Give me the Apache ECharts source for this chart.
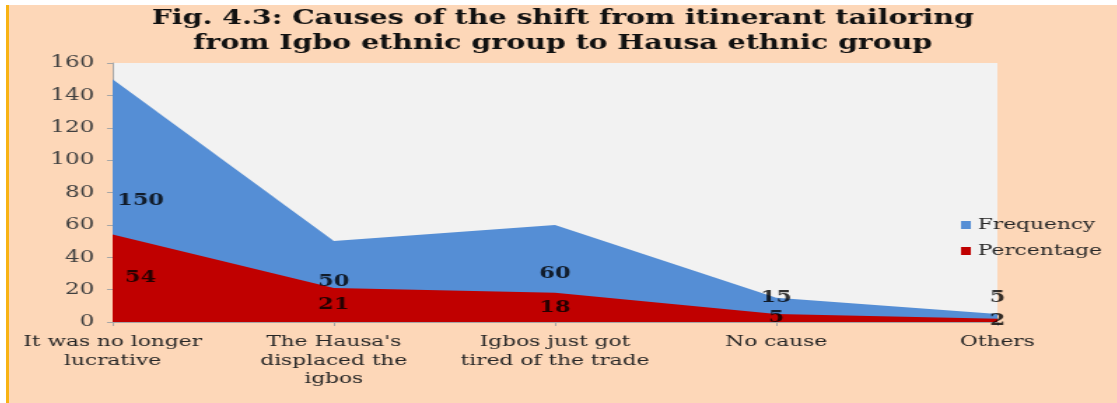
<!DOCTYPE html>
<html>
<head>
<meta charset="utf-8">
<script src="https://cdn.jsdelivr.net/npm/echarts@6/dist/echarts.min.js"></script>
<style>
  html, body { margin: 0; padding: 0; background: #ffffff; }
  #frame { position: absolute; left: 6px; top: 5px; width: 1111px; height: 398px;
           background: #fdd7b8; border-left: 3px solid #f8b313; box-sizing: border-box; overflow: hidden; }
  /* the original picture is stretched sideways, so the chart is too */
  #chart { position: absolute; left: 0; top: 0; width: 791px; height: 398px;
           transform: scaleX(1.4); transform-origin: 0 0; }
</style>
</head>
<body>
<div id="frame"><div id="chart"></div></div>
<script>
var categories = ['It was no longer\nlucrative', "The Hausa's\ndisplaced the\nigbos",
  'Igbos just got\ntired of the trade', 'No cause', 'Others']
var frequency = [150, 50, 60, 15, 5]
var percentage = [54, 21, 18, 5, 2]
var yTicks = [0, 20, 40, 60, 80, 100, 120, 140, 160]

var serif = '"DejaVu Serif", serif'

// label points sit midway down each area, first one nudged inside the plot
function labelPoints(values, floor) {
  return values.map(function (v, i) {
    var item = { value: [i, Math.max(v / 2, floor), v] }
    if (i === 0) item.label = { offset: [20, 0] }
    return item
  })
}

var labelStyle = {
  show: true, position: 'inside',
  formatter: function (p) { return p.value[2] },
  fontFamily: serif, fontWeight: 'bold', fontSize: 16, color: '#000'
}

var chart = echarts.init(document.getElementById('chart'))
chart.setOption({
  title: {
    text: 'Fig. 4.3: Causes of the shift from itinerant tailoring\nfrom Igbo ethnic group to Hausa ethnic group',
    left: 'center',
    top: 1,
    padding: 0,
    textStyle: { fontFamily: serif, fontWeight: 'bold', fontSize: 20.3, color: '#111', lineHeight: 25 }
  },
  legend: {
    orient: 'vertical',
    left: 675,
    top: 207,
    itemWidth: 7,
    itemHeight: 8,
    itemGap: 10,
    icon: 'rect',
    data: ['Frequency', 'Percentage'],
    textStyle: { fontFamily: serif, fontSize: 15.5, color: '#262626' }
  },
  grid: { left: 74, right: 85, top: 58, bottom: 81, show: true, backgroundColor: '#f2f2f2', borderWidth: 0 },
  xAxis: {
    type: 'category',
    boundaryGap: false,
    data: categories,
    axisLine: { lineStyle: { color: '#a6a6a6' } },
    axisTick: { show: true, length: 4, lineStyle: { color: '#a6a6a6' } },
    axisLabel: { fontFamily: serif, fontSize: 15.5, color: '#262626', lineHeight: 18.5, margin: 11, interval: 0 }
  },
  yAxis: {
    type: 'value',
    min: 0,
    max: yTicks[yTicks.length - 1],
    interval: 20,
    axisLine: { show: true, lineStyle: { color: '#a6a6a6' } },
    axisTick: { show: true, length: 4, lineStyle: { color: '#a6a6a6' } },
    splitLine: { show: false },
    axisLabel: { fontFamily: serif, fontSize: 16.5, color: '#404040', margin: 13 }
  },
  series: [
    {
      name: 'Frequency', type: 'line', data: frequency, symbol: 'none',
      lineStyle: { width: 0 }, itemStyle: { color: '#558ed5' },
      areaStyle: { color: '#558ed5', opacity: 1 }
    },
    {
      name: 'Percentage', type: 'line', data: percentage, symbol: 'none',
      lineStyle: { width: 0 }, itemStyle: { color: '#c00000' },
      areaStyle: { color: '#c00000', opacity: 1 }
    },
    {
      type: 'scatter', data: labelPoints(frequency, 15), symbolSize: 0, silent: true, z: 10,
      label: labelStyle
    },
    {
      type: 'scatter', data: labelPoints(percentage, 0), symbolSize: 0, silent: true, z: 10,
      label: labelStyle
    }
  ]
})
</script>
</body>
</html>
